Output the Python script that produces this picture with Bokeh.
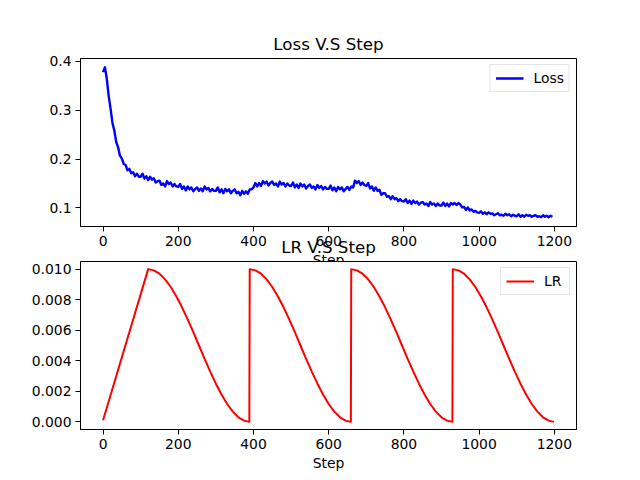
from bokeh.plotting import figure
from bokeh.layouts import column
from bokeh.models import Range1d, FixedTicker, NumeralTickFormatter
from bokeh.embed import file_html
from bokeh.resources import INLINE

# ---------------- data ----------------
loss_steps = list(range(0, 1200, 5))
loss_values = [
    0.378, 0.388, 0.364, 0.329, 0.303, 0.274, 0.258, 0.235, 0.224, 0.207,
    0.201, 0.190, 0.188, 0.177, 0.180, 0.171, 0.173, 0.165, 0.170, 0.164,
    0.164, 0.170, 0.160, 0.165, 0.157, 0.164, 0.158, 0.161, 0.152, 0.155,
    0.156, 0.147, 0.150, 0.144, 0.155, 0.149, 0.152, 0.144, 0.149, 0.144,
    0.143, 0.149, 0.139, 0.144, 0.136, 0.144, 0.138, 0.142, 0.134, 0.139,
    0.142, 0.135, 0.140, 0.134, 0.144, 0.138, 0.141, 0.134, 0.139, 0.135,
    0.135, 0.142, 0.132, 0.138, 0.130, 0.139, 0.134, 0.138, 0.130, 0.135,
    0.138, 0.130, 0.133, 0.126, 0.135, 0.129, 0.134, 0.129, 0.138, 0.138,
    0.142, 0.151, 0.144, 0.151, 0.145, 0.155, 0.150, 0.154, 0.146, 0.151,
    0.154, 0.147, 0.150, 0.144, 0.154, 0.148, 0.151, 0.144, 0.150, 0.146,
    0.145, 0.152, 0.142, 0.148, 0.141, 0.150, 0.144, 0.148, 0.140, 0.145,
    0.148, 0.141, 0.144, 0.138, 0.147, 0.141, 0.145, 0.138, 0.143, 0.139,
    0.139, 0.146, 0.136, 0.142, 0.134, 0.143, 0.138, 0.142, 0.134, 0.139,
    0.143, 0.137, 0.144, 0.142, 0.156, 0.151, 0.155, 0.147, 0.152, 0.147,
    0.145, 0.151, 0.140, 0.144, 0.135, 0.142, 0.135, 0.137, 0.127, 0.130,
    0.130, 0.123, 0.124, 0.118, 0.124, 0.118, 0.120, 0.114, 0.118, 0.114,
    0.113, 0.118, 0.110, 0.115, 0.108, 0.115, 0.110, 0.113, 0.107, 0.111,
    0.112, 0.107, 0.109, 0.104, 0.112, 0.107, 0.109, 0.104, 0.109, 0.105,
    0.105, 0.111, 0.104, 0.109, 0.103, 0.110, 0.107, 0.110, 0.106, 0.110,
    0.107, 0.101, 0.102, 0.096, 0.101, 0.095, 0.097, 0.092, 0.094, 0.091,
    0.090, 0.093, 0.088, 0.091, 0.087, 0.091, 0.088, 0.089, 0.085, 0.087,
    0.089, 0.085, 0.086, 0.084, 0.088, 0.085, 0.087, 0.083, 0.086, 0.084,
    0.083, 0.087, 0.082, 0.085, 0.082, 0.086, 0.084, 0.085, 0.082, 0.084,
    0.085, 0.082, 0.083, 0.081, 0.085, 0.082, 0.084, 0.081, 0.084, 0.082,
]

lr_steps = [
    0, 120, 135, 150, 165, 180, 195, 210, 225, 240, 255, 270, 285, 300, 315, 330, 345, 360, 375, 389,
    390, 405, 420, 435, 450, 465, 480, 495, 510, 525, 540, 555, 570, 585, 600, 615, 630, 645, 659,
    660, 675, 690, 705, 720, 735, 750, 765, 780, 795, 810, 825, 840, 855, 870, 885, 900, 915, 929,
    930, 945, 960, 975, 990, 1005, 1020, 1035, 1050, 1065, 1080, 1095, 1110, 1125, 1140, 1155, 1170, 1185, 1199,
]
lr_values = [
    0.0001,
    0.01000, 0.00992, 0.00970, 0.00933, 0.00883, 0.00821, 0.00750, 0.00671, 0.00587, 0.00500,
    0.00413, 0.00329, 0.00250, 0.00179, 0.00117, 0.00067, 0.00030, 0.00008, 0.00000,
    0.01000, 0.00992, 0.00970, 0.00933, 0.00883, 0.00821, 0.00750, 0.00671, 0.00587, 0.00500,
    0.00413, 0.00329, 0.00250, 0.00179, 0.00117, 0.00067, 0.00030, 0.00008, 0.00000,
    0.01000, 0.00992, 0.00970, 0.00933, 0.00883, 0.00821, 0.00750, 0.00671, 0.00587, 0.00500,
    0.00413, 0.00329, 0.00250, 0.00179, 0.00117, 0.00067, 0.00030, 0.00008, 0.00000,
    0.01000, 0.00992, 0.00970, 0.00933, 0.00883, 0.00821, 0.00750, 0.00671, 0.00587, 0.00500,
    0.00413, 0.00329, 0.00250, 0.00179, 0.00117, 0.00067, 0.00030, 0.00008, 0.00000,
]

x_ticks = [0, 200, 400, 600, 800, 1000, 1200]
loss_ticks = [0.1, 0.2, 0.3, 0.4]
lr_ticks = [0.0, 0.002, 0.004, 0.006, 0.008, 0.010]

FONT = "DejaVu Sans"


def make_fig(title, y_range, top_border, bottom_border):
    p = figure(
        title=title,
        output_backend="svg",
        toolbar_location=None,
        frame_width=496,
        frame_height=168,
        min_border_left=80,
        min_border_right=48,
        min_border_top=top_border,
        min_border_bottom=bottom_border,
        x_range=Range1d(-60, 1259),
        y_range=y_range,
    )
    p.outline_line_color = "black"
    p.outline_line_alpha = 1.0
    p.outline_line_width = 1
    p.grid.visible = False
    p.background_fill_color = "white"
    p.title.text_font = FONT
    p.title.text_font_size = "16.7px"
    p.title.text_font_style = "normal"
    p.title.text_color = "black"
    p.title.align = "center"
    p.title.standoff = 10
    for ax in (p.xaxis[0], p.yaxis[0]):
        ax.major_label_text_font = FONT
        ax.major_label_text_font_size = "13.9px"
        ax.major_label_text_color = "black"
        ax.axis_line_color = "black"
        ax.major_tick_line_color = "black"
        ax.major_tick_out = 5
        ax.major_tick_in = 0
        ax.minor_tick_line_color = None
        ax.axis_label_text_font = FONT
        ax.axis_label_text_font_size = "13.9px"
        ax.axis_label_text_font_style = "normal"
        ax.axis_label_text_color = "black"
        ax.major_label_standoff = 4
        ax.axis_label_standoff = 3
    p.xaxis.ticker = FixedTicker(ticks=x_ticks)
    p.xaxis.axis_label = "Step"
    return p


def style_legend(p):
    lg = p.legend[0]
    lg.location = "top_right"
    lg.margin = 6
    lg.padding = 5
    lg.spacing = 0
    lg.label_text_font = FONT
    lg.label_text_font_size = "13.9px"
    lg.label_text_color = "black"
    lg.label_standoff = 10
    lg.glyph_width = 28
    lg.glyph_height = 14
    lg.label_height = 14
    lg.border_line_color = "#cccccc"
    lg.border_line_width = 1
    lg.background_fill_color = "white"
    lg.background_fill_alpha = 0.8


p1 = make_fig("Loss V.S Step", Range1d(0.062, 0.406), 58, 46)
p1.yaxis.ticker = FixedTicker(ticks=loss_ticks)
p1.yaxis.formatter = NumeralTickFormatter(format="0.0")
p1.line(loss_steps, loss_values, line_color="blue", line_width=2.4,
        line_join="round", legend_label="Loss")
style_legend(p1)

p2 = make_fig("LR V.S Step", Range1d(-0.0005, 0.0105), 30, 45)
p2.yaxis.ticker = FixedTicker(ticks=lr_ticks)
p2.yaxis.formatter = NumeralTickFormatter(format="0.000")
p2.line(lr_steps, lr_values, line_color="red", line_width=2,
        line_join="round", legend_label="LR")
style_legend(p2)
p2.border_fill_color = None
p2.margin = (-43, 0, 0, 0)

layout = column(p1, p2)
open("out.html", "w").write(file_html(layout, INLINE))
